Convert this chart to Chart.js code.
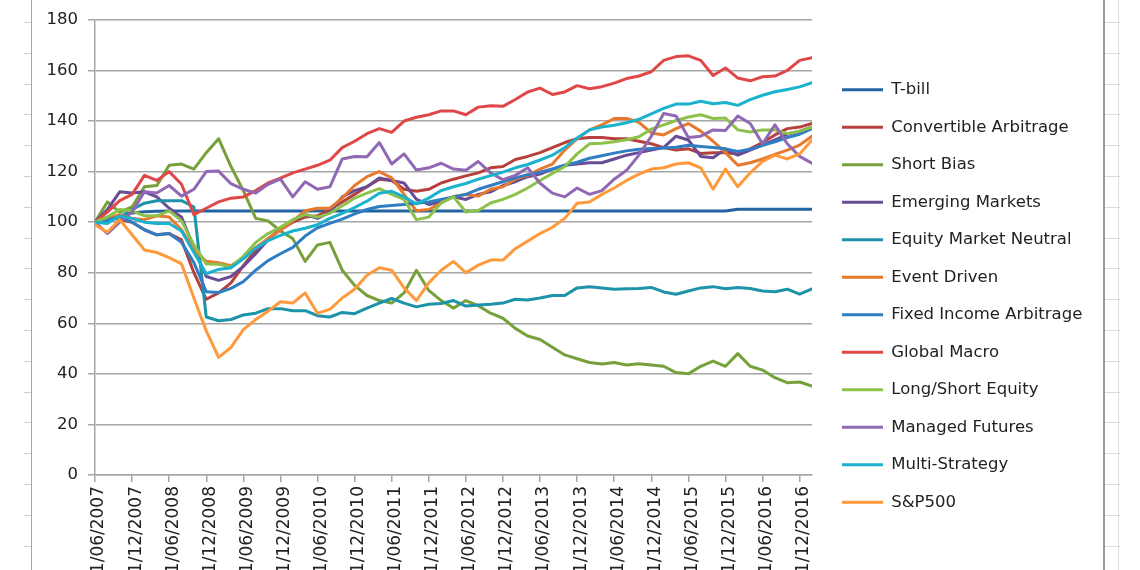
<!DOCTYPE html>
<html>
<head>
<meta charset="utf-8">
<title>Hedge fund indices</title>
<script src="https://cdn.jsdelivr.net/npm/chart.js@4.4.0/dist/chart.umd.min.js"></script>
<style>
  html, body { margin: 0; padding: 0; background: #fff; width: 1140px; height: 570px; overflow: hidden; }
  /* bits of the spreadsheet around the chart */
  #rowsLeft { position: absolute; left: 24px; top: 0; width: 7px; height: 570px;
    background: repeating-linear-gradient(to bottom, transparent 0, transparent 22px, #d0d0d0 22px, #d0d0d0 23px, transparent 23px, transparent 30.8px); }
  #edgeLeft { position: absolute; left: 31px; top: 0; width: 1px; height: 570px; background: #a6a6a6; }
  #rowsRight { position: absolute; left: 1104px; top: 0; width: 16px; height: 570px;
    background: repeating-linear-gradient(to bottom, transparent 0, transparent 22px, #dcdcdc 22px, #dcdcdc 23px, transparent 23px, transparent 30.8px); }
  #edgeRight { position: absolute; left: 1103px; top: 0; width: 2px; height: 570px; background: #9a9a9a; }
  #colRight { position: absolute; left: 1118px; top: 0; width: 1px; height: 570px; background: #dedede; }
  #wrap { position: absolute; left: 33px; top: 0; width: 1070px; height: 580px; }
</style>
</head>
<body>
<div id="rowsLeft"></div>
<div id="edgeLeft"></div>
<div id="rowsRight"></div>
<div id="colRight"></div>
<div id="edgeRight"></div>
<div id="wrap"><canvas id="grafico"></canvas></div>
<script>
// months since 01/06/2007, one reading every two months
var monthIndex = [0, 2, 4, 6, 8, 10, 12, 14, 16, 18,
  20, 22, 24, 26, 28, 30, 32, 34, 36, 38,
  40, 42, 44, 46, 48, 50, 52, 54, 56, 58,
  60, 62, 64, 66, 68, 70, 72, 74, 76, 78,
  80, 82, 84, 86, 88, 90, 92, 94, 96, 98,
  100, 102, 104, 106, 108, 110, 112, 114, 116];

// x axis labels, one every 6 months
var tickLabels = ['01/06/2007', '01/12/2007', '01/06/2008', '01/12/2008', '01/06/2009',
  '01/12/2009', '01/06/2010', '01/12/2010', '01/06/2011', '01/12/2011',
  '01/06/2012', '01/12/2012', '01/06/2013', '01/12/2013', '01/06/2014',
  '01/12/2014', '01/06/2015', '01/12/2015', '01/06/2016', '01/12/2016'];

var tBill = [100, 101.2, 102.5, 103.6, 104.1, 104.3, 104.4, 104.4, 104.4, 104.4,
  104.4, 104.4, 104.4, 104.4, 104.4, 104.4, 104.4, 104.4, 104.4, 104.4,
  104.4, 104.4, 104.4, 104.4, 104.4, 104.4, 104.4, 104.4, 104.4, 104.4,
  104.4, 104.4, 104.4, 104.4, 104.4, 104.4, 104.4, 104.4, 104.4, 104.4,
  104.4, 104.4, 104.4, 104.4, 104.4, 104.4, 104.4, 104.4, 104.4, 104.4,
  104.4, 104.4, 105.1, 105.1, 105.1, 105.1, 105.1, 105.1, 105.1];

var convArb = [100, 102, 101, 100, 97, 95, 95.5, 93, 80, 69.5,
  72, 76, 82.8, 89, 93.5, 97, 100, 102, 102.5, 105,
  108, 111, 114, 117, 116.5, 113, 112.2, 113, 115.5, 117,
  118.3, 119.5, 121.5, 122, 124.8, 126, 127.5, 129.5, 131.5, 133,
  133.5, 133.5, 133, 133, 132, 131, 129.5, 128.5, 129, 127.2,
  127.5, 127.5, 127, 129, 131.5, 134.5, 137, 137.6, 139];

var shortBias = [100, 108, 104, 106, 114, 114.5, 122.5, 123, 121, 127.5,
  133, 122, 112.5, 101.5, 100.5, 96.5, 93.5, 84.5, 91, 92,
  81, 75, 71, 69, 68, 72, 81, 73, 69, 66,
  69, 67, 64, 62, 58, 55, 53.6, 50.5, 47.5, 46,
  44.5, 43.9, 44.5, 43.5, 44, 43.5, 43, 40.5, 40, 43,
  45, 43, 48, 43, 41.5, 38.5, 36.5, 36.8, 35.2];

var emergingMkts = [100, 105, 112, 111.5, 112, 110, 105.5, 102, 90, 78.5,
  77, 78.5, 82.5, 87.5, 93, 97.5, 100.5, 103, 101.5, 104,
  110, 112.5, 114, 117.5, 116.5, 115.5, 109, 107, 108, 110,
  109, 111, 112, 114.5, 116, 118, 119, 121, 122.5, 123,
  123.5, 123.5, 125, 126.5, 127.5, 128.5, 129.5, 134, 132.5, 126,
  125.5, 129, 126.5, 128.5, 130.5, 132.5, 134.8, 136, 137.6];

var eqMktNeutral = [100, 100.5, 102, 105, 107.5, 108.5, 108.5, 108.5, 106, 62.5,
  61, 61.5, 63.3, 64, 65.8, 65.8, 65, 65, 63, 62.5,
  64.3, 63.8, 66, 68, 69.8, 68, 66.5, 67.5, 67.8, 69,
  66.8, 67.2, 67.5, 68, 69.5, 69.2, 70, 71, 71, 74,
  74.5, 74, 73.5, 73.7, 73.8, 74.2, 72.4, 71.5, 72.8, 74,
  74.5, 73.7, 74.2, 73.8, 72.8, 72.5, 73.5, 71.5, 73.6];

var eventDriven = [100, 101.5, 103, 101.5, 101, 102.5, 102, 97, 89, 84.5,
  84, 82.8, 86, 90, 93.5, 96.8, 100.5, 104.5, 105.5, 105.5,
  109.5, 114.5, 118, 120, 117.5, 111, 104.5, 105, 107.6, 110.2,
  110.9, 110.3, 113, 114, 117, 118.5, 121, 123, 128.5, 133,
  136.5, 138.5, 141, 141, 139.5, 135.3, 134.5, 137, 139, 136,
  132, 127.5, 122.5, 123.5, 125, 126.8, 128.5, 130.5, 134];

var fixedIncArb = [100, 101, 102, 100, 97, 95, 95.5, 92, 84, 72.5,
  72.2, 73.8, 76.5, 81, 84.8, 87.5, 90, 94.5, 97.8, 99.5,
  101.2, 103.3, 105, 106.2, 106.6, 107, 107.5, 108, 109, 110,
  111, 113, 114.5, 116, 117.5, 118.8, 119.8, 121, 122.5, 123.7,
  125.3, 126.3, 127.3, 128.2, 128.8, 129.1, 129.3, 129.6, 130.4, 129.9,
  129.5, 129, 128, 128.8, 130.4, 131.8, 133.5, 134.8, 137];

var globalMacro = [100, 104, 108.5, 111, 118.5, 116.5, 120, 115, 103, 105.5,
  108, 109.5, 110, 112.5, 115.5, 117.4, 119.5, 121, 122.5, 124.5,
  129.5, 132, 135, 137, 135.5, 140, 141.5, 142.5, 144, 144,
  142.5, 145.5, 146, 145.8, 148.5, 151.5, 153, 150.5, 151.5, 154,
  152.8, 153.6, 155, 156.8, 157.8, 159.5, 164, 165.5, 165.8, 164,
  158, 161, 157, 155.9, 157.5, 157.8, 160, 164, 165];

var longShort = [100, 102, 105, 104.5, 102.5, 102.5, 104.5, 100.5, 91, 83.5,
  83.4, 82.2, 86.5, 92, 95.5, 98, 101, 103, 102, 103.5,
  106.5, 109.5, 111.5, 113.3, 111, 109, 101, 102, 107.6, 110,
  104, 104.6, 107.6, 109, 111, 113.5, 116.5, 119.3, 122, 127,
  131, 131.2, 131.8, 132.6, 133.8, 136.8, 138.5, 140.2, 141.6, 142.5,
  141, 141.2, 136.5, 135.7, 136.5, 136.5, 135, 136, 137.6];

var managedFut = [100, 95.5, 100, 104, 112, 111.5, 114.5, 110.3, 113, 120,
  120.2, 115.2, 113, 111.5, 115, 117, 110, 116, 113, 114,
  125, 126, 125.9, 131.5, 123, 127, 120.6, 121.5, 123.3, 121,
  120.5, 124, 119.5, 116.8, 118.5, 121.5, 115.4, 111.5, 110, 113.5,
  111, 112.5, 117, 120.5, 126.5, 134, 143, 142, 133.5, 134,
  136.5, 136.3, 142, 139, 131, 138.5, 131, 126, 123.3];

var multiStrat = [100, 99.5, 102.5, 101.5, 100, 99.5, 99.5, 96.5, 88, 79.6,
  81.3, 82, 85.5, 89.7, 92.7, 94.8, 96.5, 97.6, 99, 101.5,
  103.5, 105.8, 108.3, 111.4, 112.2, 110, 107.2, 109.5, 112.5, 114,
  115.3, 117, 118.4, 119.8, 121.5, 122.8, 124.6, 126.5, 129.5, 133.3,
  136.5, 137.6, 138.3, 139.3, 140.7, 142.8, 145, 146.7, 146.7, 147.8,
  146.8, 147.3, 146.2, 148.5, 150.2, 151.6, 152.5, 153.5, 155.2];

var sp500 = [99, 96, 101, 95, 89, 88, 86, 83.5, 70, 57,
  46.5, 50.5, 57.5, 61.5, 64.8, 68.5, 68, 72, 64, 65.5,
  70, 73.5, 79, 82, 81, 74, 69, 76, 81, 84.5,
  80, 83, 85, 85, 89.5, 92.5, 95.5, 98, 101.5, 107.5,
  108, 111, 113.5, 116.5, 119, 121, 121.5, 123, 123.5, 121.5,
  113, 121, 114, 119.5, 124, 126.5, 125, 127, 132.5];

var seriesNames = ['T-bill', 'Convertible Arbitrage', 'Short Bias', 'Emerging Markets',
  'Equity Market Neutral', 'Event Driven', 'Fixed Income Arbitrage', 'Global Macro',
  'Long/Short Equity', 'Managed Futures', 'Multi-Strategy', 'S&P500'];
var seriesValues = [tBill, convArb, shortBias, emergingMkts, eqMktNeutral, eventDriven,
  fixedIncArb, globalMacro, longShort, managedFut, multiStrat, sp500];
var seriesColors = ['#22649f', '#b8403c', '#76a03a', '#694c96', '#1c93a8', '#e7792d',
  '#2f7ec4', '#e04848', '#8dc24a', '#9068b4', '#1ab2cd', '#ff9a3c'];

var axisGrey = '#a6a6a6';
var textColor = '#222222';

var datasets = seriesNames.map(function (name, i) {
  return {
    label: name,
    data: seriesValues[i].map(function (v, k) { return { x: monthIndex[k], y: v }; }),
    borderColor: seriesColors[i],
    backgroundColor: seriesColors[i],
    borderWidth: 3,
    borderCapStyle: 'round',
    borderJoinStyle: 'round',
    pointRadius: 0,
    tension: 0,
    // excel paints the last series on top
    order: seriesNames.length - 1 - i
  };
});

var ctx = document.querySelector('#grafico');
var lineChart = new Chart(ctx, {
  type: 'line',
  data: { datasets: datasets },
  options: {
    responsive: true,
    maintainAspectRatio: false,
    animation: false,
    layout: { padding: { top: 15, right: 0, bottom: 3, left: 0 } },
    plugins: {
      tooltip: { enabled: false },
      legend: {
        position: 'right',
        maxWidth: 400,
        labels: {
          usePointStyle: true,
          pointStyle: 'line',
          pointStyleWidth: 41,
          padding: 21,
          color: textColor,
          font: { family: 'DejaVu Sans', size: 16.5 },
          sort: function (a, b) { return a.datasetIndex - b.datasetIndex; }
        }
      }
    },
    scales: {
      x: {
        type: 'linear',
        min: 0,
        max: 116,
        afterFit: function (s) { s.height = 102; },
        ticks: {
          stepSize: 6,
          includeBounds: false,
          autoSkip: false,
          minRotation: 90,
          maxRotation: 90,
          padding: 4,
          labelOffset: 4,
          color: textColor,
          font: { family: 'DejaVu Sans', size: 17 },
          callback: function (value) { return tickLabels[value / 6] || ''; }
        },
        grid: { drawOnChartArea: false, drawTicks: true, tickLength: 7, color: axisGrey, lineWidth: 1.5 },
        border: { color: axisGrey, width: 1.5 }
      },
      y: {
        min: 0,
        max: 180,
        afterFit: function (s) { s.width = 62; },
        ticks: {
          stepSize: 20,
          padding: 10,
          color: textColor,
          font: { family: 'DejaVu Sans', size: 16.5 }
        },
        grid: { color: axisGrey, lineWidth: 1.5, tickLength: 7 },
        border: { color: axisGrey, width: 1.5 }
      },
      // empty right axis, only keeps a small gap before the legend
      gap: {
        type: 'linear',
        position: 'right',
        display: true,
        afterFit: function (s) { s.width = 9; },
        ticks: { display: false },
        grid: { display: false },
        border: { display: false }
      }
    }
  }
});

// legend should start 282px from the right edge of the canvas:
// whatever it does not use becomes right padding
lineChart.options.layout.padding.right = Math.max(0, 282 - lineChart.legend.width);
lineChart.update();
</script>
</body>
</html>
